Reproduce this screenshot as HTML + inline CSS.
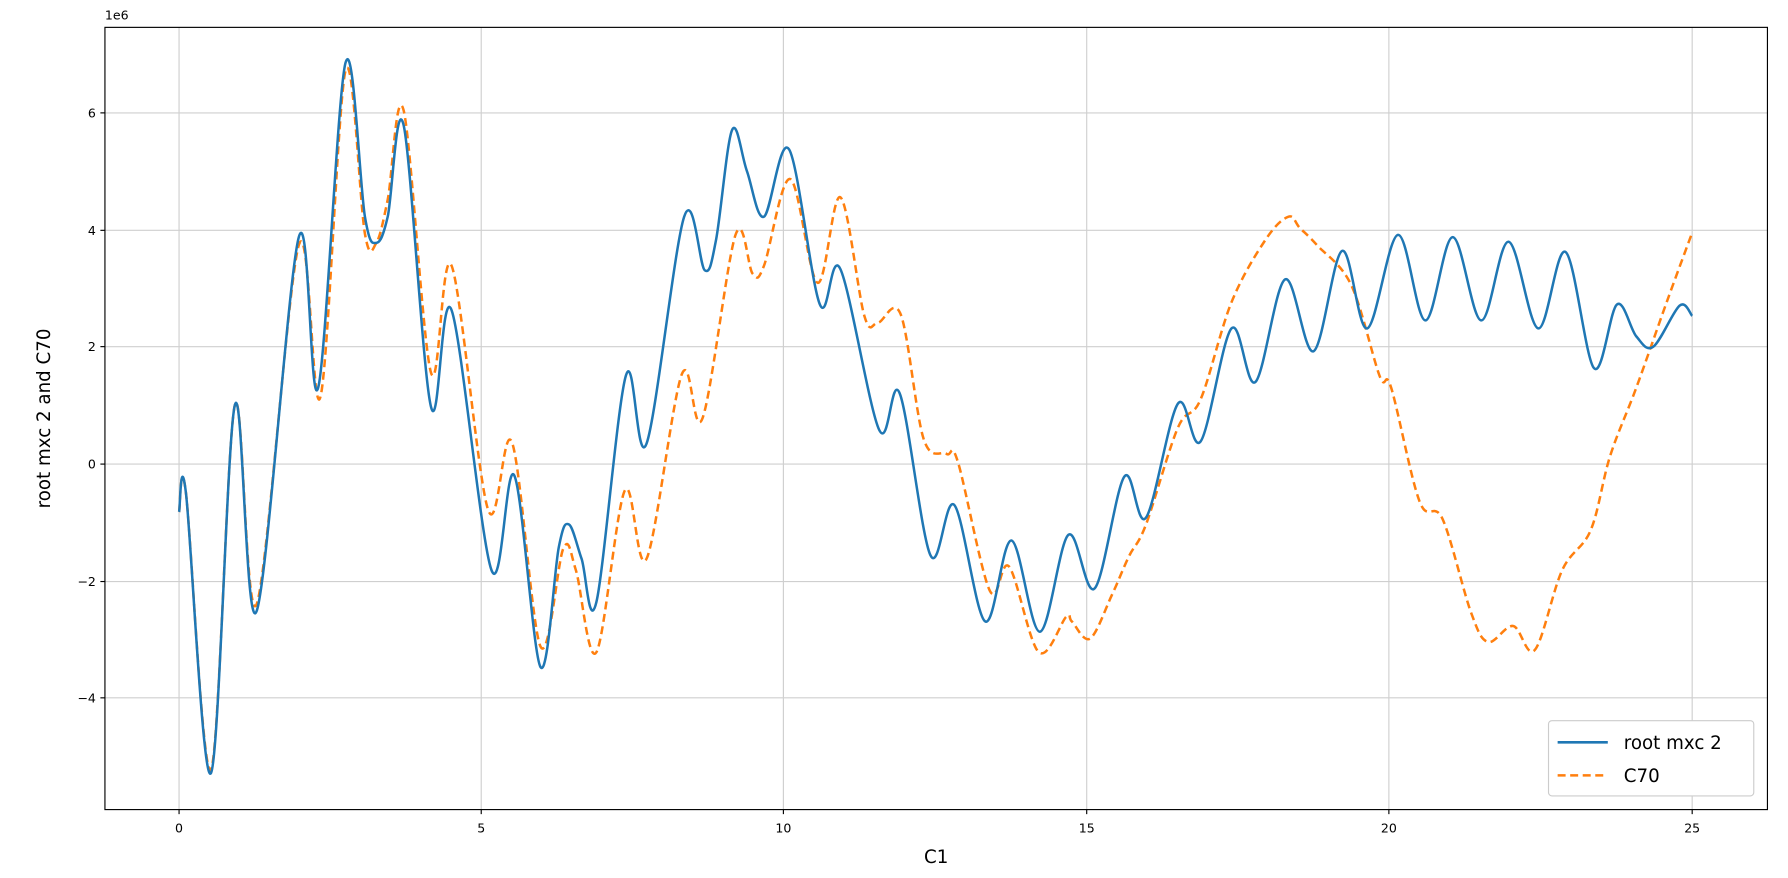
<!DOCTYPE html>
<html><head><meta charset="utf-8"><style>
html,body{margin:0;padding:0;background:#fff;}
svg{display:block;}
text{font-family:"DejaVu Sans","Liberation Sans",sans-serif;fill:#000;}
</style></head><body>
<svg id="s" width="1788" height="878" viewBox="0 0 1568 770" xmlns="http://www.w3.org/2000/svg">
<rect width="1568" height="770" fill="#fff"/>
<g stroke="#cfcfcf" stroke-width="1">
<line x1="157" y1="24" x2="157" y2="710"/><line x1="422" y1="24" x2="422" y2="710"/><line x1="687" y1="24" x2="687" y2="710"/><line x1="953" y1="24" x2="953" y2="710"/><line x1="1218" y1="24" x2="1218" y2="710"/><line x1="1484" y1="24" x2="1484" y2="710"/>
<line x1="92" y1="99" x2="1550" y2="99"/><line x1="92" y1="202" x2="1550" y2="202"/><line x1="92" y1="304" x2="1550" y2="304"/><line x1="92" y1="407" x2="1550" y2="407"/><line x1="92" y1="510" x2="1550" y2="510"/><line x1="92" y1="612" x2="1550" y2="612"/>
</g>
<path id="o" fill="none" stroke="#ff7f0e" stroke-width="2.2" stroke-dasharray="7,4"/>
<path id="b" fill="none" stroke="#1f77b4" stroke-width="2.2"/>
<rect x="92" y="24" width="1458" height="686" fill="none" stroke="#000" stroke-width="1"/>
<g stroke="#000"><line x1="157" y1="710" x2="157" y2="714"/><line x1="422" y1="710" x2="422" y2="714"/><line x1="687" y1="710" x2="687" y2="714"/><line x1="953" y1="710" x2="953" y2="714"/><line x1="1218" y1="710" x2="1218" y2="714"/><line x1="1484" y1="710" x2="1484" y2="714"/>
<line x1="88" y1="99" x2="92" y2="99"/><line x1="88" y1="202" x2="92" y2="202"/><line x1="88" y1="304" x2="92" y2="304"/><line x1="88" y1="407" x2="92" y2="407"/><line x1="88" y1="510" x2="92" y2="510"/><line x1="88" y1="612" x2="92" y2="612"/></g>
<g font-size="11" text-anchor="middle">
<text x="157" y="730">0</text><text x="422" y="730">5</text><text x="687" y="730">10</text><text x="953" y="730">15</text><text x="1218" y="730">20</text><text x="1484" y="730">25</text></g>
<g font-size="11" text-anchor="end">
<text x="84" y="103">6</text><text x="84" y="206">4</text><text x="84" y="308">2</text><text x="84" y="411">0</text><text x="84" y="514">−2</text><text x="84" y="616">−4</text></g>
<text x="92" y="17" font-size="11">1e6</text>
<text x="821" y="757" font-size="16" text-anchor="middle">C1</text>
<text transform="translate(44,367) rotate(-90)" font-size="16" text-anchor="middle">root mxc 2 and C70</text>
<rect x="1358" y="632" width="180" height="66" rx="3" fill="#fff" stroke="#ccc"/>
<line x1="1366" y1="651" x2="1410" y2="651" stroke="#1f77b4" stroke-width="2.2"/>
<line x1="1366" y1="680" x2="1410" y2="680" stroke="#ff7f0e" stroke-width="2.2" stroke-dasharray="7,4"/>
<text x="1424" y="657" font-size="16">root mxc 2</text>
<text x="1424" y="686" font-size="16">C70</text>
</svg>
<script>
function cr(p){let d="M"+p[0][0]+","+p[0][1];for(let i=0;i<p.length-1;i++){const a=p[Math.max(0,i-1)],b=p[i],c=p[i+1],e=p[Math.min(p.length-1,i+2)];
d+=" C"+(b[0]+(c[0]-a[0])/6)+","+(b[1]+(c[1]-a[1])/6)+" "+(c[0]-(e[0]-b[0])/6)+","+(c[1]-(e[1]-b[1])/6)+" "+c[0]+","+c[1];}return d;}
const B=[[157,449],[163,432],[185,678],[206,355],[225,536],[262,208],[279,340],[303,55],[320,190],[330,213],[340,190],[354,110],[378,357],[396,272],[431,500],[451,417],[474,585],[490,480],[499,460],[510,490],[523,528],[549,329],[567,389],[600,190],[618,237],[628,210],[642,114],[655,150],[670,190],[692,131],[719,267],[737,236],[771,377],[789,345],[816,487],[837,443],[864,545],[887,474],[912,554],[937,469],[960,516],[986,418],[1005,454],[1033,354],[1053,387],[1080,288],[1101,335],[1127,245],[1152,308],[1177,220],[1199,288],[1226,206],[1250,281],[1274,208],[1299,281],[1323,212],[1349,288],[1373,221],[1398,323],[1418,267],[1435,295],[1450,304],[1473,268],[1484,277]];
const O=[[157,449],[163,432],[185,675],[206,355],[225,530],[262,215],[281,348],[303,62],[320,205],[330,213],[340,175],[354,97],[378,327],[396,233],[428,447],[449,388],[474,567],[494,481],[505,500],[523,572],[548,430],[567,490],[598,328],[616,367],[645,206],[660,240],[670,233],[693,157],[717,248],[737,173],[758,277],[770,283],[790,276],[810,385],[830,398],[840,405],[868,518],[885,497],[911,572],[935,541],[940,545],[956,560],[975,522],[990,488],[1005,460],[1033,375],[1053,350],[1080,265],[1110,210],[1130,190],[1140,200],[1155,215],[1185,250],[1210,330],[1220,340],[1245,440],[1265,455],[1290,537],[1305,563],[1327,549],[1346,570],[1370,500],[1395,465],[1412,400],[1435,340],[1462,264],[1484,204]];
document.getElementById("b").setAttribute("d",cr(B));
document.getElementById("o").setAttribute("d",cr(O));
</script>
</body></html>
